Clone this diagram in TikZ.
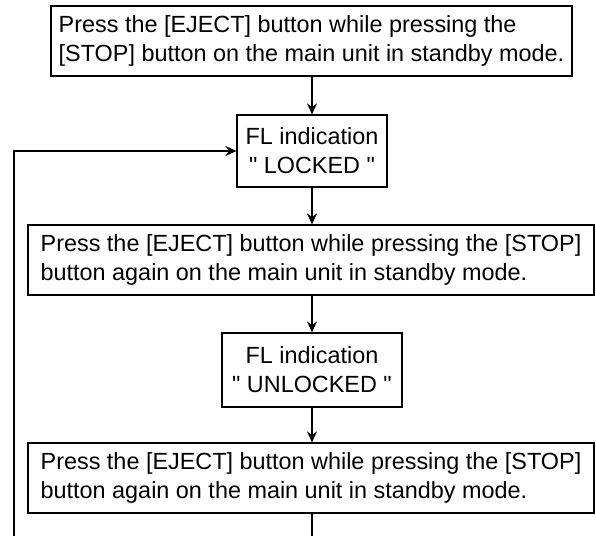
\documentclass[tikz,border=0pt]{standalone}
\usepackage{fontspec}
\setmainfont{Liberation Sans}
\usepackage{tikz}
\usetikzlibrary{arrows.meta, positioning}
\tikzstyle{pressbox} = [draw=black, line width=0.6pt, align=left, inner sep=2pt, minimum height=35pt, font=\fontsize{11.7}{14.5}\selectfont]
\tikzstyle{flbox} = [draw=black, line width=0.6pt, align=center, inner sep=2pt, font=\fontsize{11.7}{14.5}\selectfont]
\tikzstyle{arrow} = [line width=0.6pt, -{Stealth[length=5.5pt,width=5pt]}]

\begin{document}
\begin{tikzpicture}[x=0.5pt, y=-0.5pt]
\useasboundingbox (0,0) rectangle (596,536);

\node[pressbox, minimum width=260.5pt] (press) at (311.5,41)
{Press the [EJECT] button while pressing the\\
{[}STOP] button on the main unit in standby mode.};

\node[flbox, minimum width=75pt, minimum height=36pt] (locked) at (312,151)
{FL indication\\\textquotedbl\ LOCKED \textquotedbl};

\node[pressbox, minimum width=283pt] (againone) at (311,260)
{Press the [EJECT] button while pressing the [STOP]\\
button again on the main unit in standby mode.};

\node[flbox, minimum width=90pt, minimum height=37pt] (unlocked) at (312,370)
{FL indication\\\textquotedbl\ UNLOCKED \textquotedbl};

\node[pressbox, minimum width=283pt] (againtwo) at (311,478)
{Press the [EJECT] button while pressing the [STOP]\\
button again on the main unit in standby mode.};

% loop ends run off the bottom edge
\coordinate (tailend) at (312,536);
\coordinate (loopstart) at (14,536);

\draw[arrow] (press.south -| locked.north) -- (locked.north);
\draw[arrow] (locked.south) -- (locked.south |- againone.north);
\draw[arrow] (againone.south -| unlocked.north) -- (unlocked.north);
\draw[arrow] (unlocked.south) -- (unlocked.south |- againtwo.north);
\draw[line width=0.6pt] (againtwo.south -| tailend) -- (tailend);
\draw[arrow] (loopstart) |- (locked.west);
\end{tikzpicture}
\end{document}
